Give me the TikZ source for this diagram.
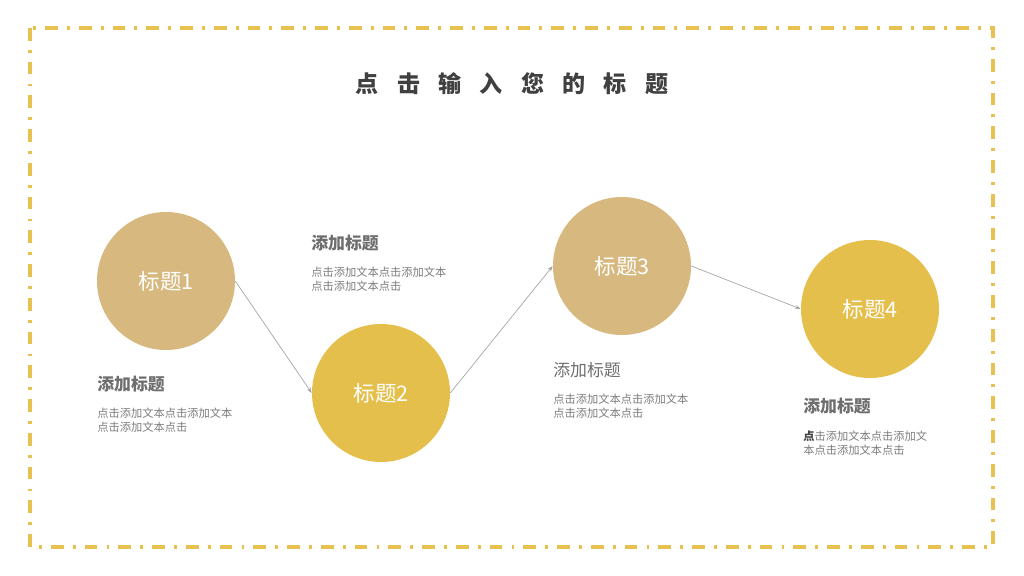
\documentclass[tikz,border=0pt]{standalone}
\usepackage{fontspec}
\setmainfont{Noto Sans CJK SC}
\usetikzlibrary{arrows.meta}

\definecolor{framegold}{HTML}{E8C250}
\definecolor{circtan}{HTML}{D7B97F}
\definecolor{circgold}{HTML}{E5BF4B}
\definecolor{titlegray}{HTML}{404040}
\definecolor{headgray}{HTML}{6E6E6E}
\definecolor{bodygray}{HTML}{7C7C7C}

\newlength{\pxu}
\setlength{\pxu}{0.025cm}

\tikzstyle{every node}=[inner sep=0pt]
\tikzstyle{ball}=[circle, minimum size=138\pxu, text=white, font=\fontsize{15.3}{18}\selectfont]
\tikzstyle{head}=[anchor=west, text=headgray, font=\fontsize{12}{14}\selectfont]
\tikzstyle{body}=[anchor=west, align=left, text=bodygray, font=\fontsize{8}{10}\selectfont]
\tikzstyle{arrowline}=[draw=gray!70, line width=0.5pt, -{Stealth[length=4pt,width=3pt]}]

\begin{document}
\begin{tikzpicture}[x=0.025cm, y=-0.025cm]
    \useasboundingbox (0,0) rectangle (1024,576);
    \draw[framegold, line width=2.2pt, dash pattern=on 9pt off 6.5pt on 2pt off 6.5pt]
      (30,28) rectangle (993,547);
    \node[text=titlegray, font=\fontsize{16.4}{20}\selectfont\bfseries] (title) at (512,84)
      {点\hspace{13pt}击\hspace{13pt}输\hspace{13pt}入\hspace{13pt}您\hspace{13pt}的\hspace{13pt}标\hspace{13pt}题};
    \node[ball, fill=circtan] (c1) at (166,281) {标题1};
    \node[ball, fill=circgold] (c2) at (381,393) {标题2};
    \node[ball, fill=circtan] (c3) at (622,266) {标题3};
    \node[ball, fill=circgold] (c4) at (870,309) {标题4};
    \node[head, font=\fontsize{12}{14}\selectfont\bfseries] (h1) at (97,384) {添加标题};
    \node[body] (b1) at (97,420) {点击添加文本点击添加文本\\点击添加文本点击};
    \node[head, font=\fontsize{12}{14}\selectfont\bfseries] (h2) at (311,243) {添加标题};
    \node[body] (b2) at (311,279) {点击添加文本点击添加文本\\点击添加文本点击};
    \node[head] (h3) at (553,370) {添加标题};
    \node[body] (b3) at (553,406) {点击添加文本点击添加文本\\点击添加文本点击};
    \node[head, font=\fontsize{12}{14}\selectfont\bfseries] (h4) at (803,406) {添加标题};
    \node[body] (b4) at (803,443) {{\bfseries\color{titlegray}点}击添加文本点击添加文\\本点击添加文本点击};
    \path
    (c1.east) edge[arrowline] (c2.west)
    (c2.east) edge[arrowline] (c3.west)
    (c3.east) edge[arrowline] (c4.west)
	;
  \end{tikzpicture}
\end{document}
